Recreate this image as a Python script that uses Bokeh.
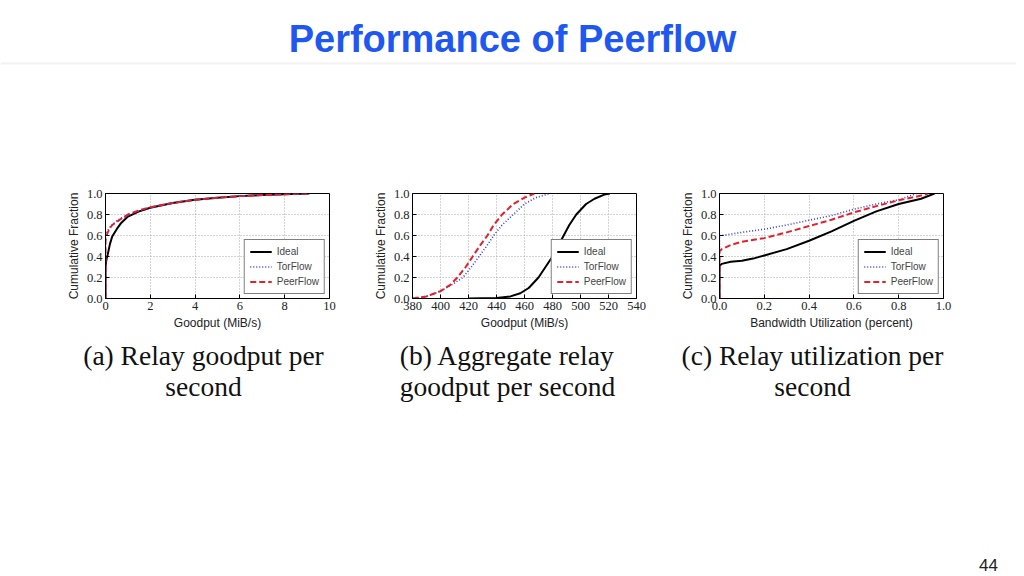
from bokeh.plotting import figure
from bokeh.layouts import column, row
from bokeh.models import Range1d, Spacer, FixedTicker, NumeralTickFormatter
from bokeh.core.properties import value
from bokeh.embed import file_html
from bokeh.resources import INLINE

TITLE = "Performance of Peerflow"
PAGE_NUMBER = "44"
CAPTION_LINES_1 = ["(a) Relay goodput per", "(b) Aggregate relay", "(c) Relay utilization per"]
CAPTION_LINES_2 = ["second", "goodput per second", "second"]
SERIES = ["Ideal", "TorFlow", "PeerFlow"]
Y_TICKS = [0.0, 0.2, 0.4, 0.6, 0.8, 1.0]

# (a) Relay goodput per second
a_x_ticks = [0, 2, 4, 6, 8, 10]
a_ideal_x = [0, 0, 0.02, 0.05, 0.1, 0.2, 0.3, 0.5, 0.7, 1.0, 1.5, 2.0, 3.0, 4.0, 5.0, 6.0, 7.0, 8.0, 9.1]
a_ideal_y = [0, 0.30, 0.34, 0.38, 0.42, 0.52, 0.59, 0.66, 0.72, 0.78, 0.83, 0.865, 0.91, 0.94, 0.96, 0.975, 0.985, 0.993, 1.0]
a_torflow_x = [0, 0, 0.05, 0.1, 0.2, 0.3, 0.5, 0.7, 1.0, 1.5, 2.0, 3.0, 4.0, 5.0, 6.0, 7.0, 8.0, 9.0]
a_torflow_y = [0, 0.60, 0.63, 0.65, 0.68, 0.70, 0.74, 0.765, 0.79, 0.83, 0.865, 0.91, 0.94, 0.96, 0.975, 0.985, 0.993, 1.0]
a_peerflow_x = [0, 0, 0.05, 0.1, 0.2, 0.3, 0.5, 0.7, 1.0, 1.5, 2.0, 3.0, 4.0, 5.0, 6.0, 7.0, 8.0, 9.0]
a_peerflow_y = [0, 0.55, 0.60, 0.63, 0.67, 0.70, 0.73, 0.76, 0.80, 0.84, 0.87, 0.91, 0.94, 0.96, 0.975, 0.985, 0.993, 1.0]

# (b) Aggregate relay goodput per second
b_x_ticks = [380, 400, 420, 440, 460, 480, 500, 520, 540]
b_ideal_x = [420, 440, 450, 457, 463, 470, 475, 480, 484, 488, 492, 497, 504, 510, 517, 521]
b_ideal_y = [0, 0.005, 0.02, 0.05, 0.1, 0.2, 0.3, 0.4, 0.5, 0.6, 0.7, 0.8, 0.9, 0.95, 0.99, 1.0]
b_torflow_x = [382, 390, 400, 408, 416, 422, 427.5, 433, 438, 444, 452, 460, 468, 478]
b_torflow_y = [0, 0.02, 0.07, 0.13, 0.2, 0.3, 0.4, 0.5, 0.6, 0.7, 0.8, 0.9, 0.96, 1.0]
b_peerflow_x = [380, 390, 400, 407, 412, 418, 423, 428, 433.5, 438, 444, 452, 460, 467]
b_peerflow_y = [0, 0.02, 0.07, 0.13, 0.2, 0.3, 0.4, 0.5, 0.6, 0.7, 0.8, 0.9, 0.96, 1.0]

# (c) Relay utilization per second
c_x_ticks = [0.0, 0.2, 0.4, 0.6, 0.8, 1.0]
c_ideal_x = [0, 0, 0.01, 0.05, 0.1, 0.15, 0.2, 0.3, 0.4, 0.5, 0.6, 0.7, 0.8, 0.9, 0.96]
c_ideal_y = [0, 0.31, 0.33, 0.35, 0.36, 0.38, 0.41, 0.47, 0.55, 0.64, 0.74, 0.83, 0.9, 0.95, 1.0]
c_torflow_x = [0, 0, 0.01, 0.1, 0.2, 0.3, 0.4, 0.5, 0.6, 0.7, 0.8, 0.88]
c_torflow_y = [0, 0.60, 0.60, 0.63, 0.66, 0.70, 0.745, 0.79, 0.85, 0.90, 0.94, 1.0]
c_peerflow_x = [0, 0, 0.01, 0.05, 0.1, 0.2, 0.3, 0.4, 0.5, 0.6, 0.7, 0.8, 0.9, 0.93]
c_peerflow_y = [0, 0.45, 0.47, 0.51, 0.54, 0.575, 0.63, 0.69, 0.75, 0.82, 0.88, 0.935, 0.98, 1.0]

COLORS = ["black", "#3a3ae6", "#e5202a"]
DASHES = ["solid", "1 2", "6 3"]
WIDTHS = [2, 1.6, 2]

PAGE_W = 1016
HEAD_H = 180
FRAME_W, FRAME_H = 224, 105
BORDER_L, BORDER_R, BORDER_T, BORDER_B = 40, 10, 13, 34
PANEL_H = BORDER_T + FRAME_H + BORDER_B
CAP_H = 242


def make_panel(series, x_range, x_ticks, x_label, x_fmt=None):
    p = figure(frame_width=FRAME_W, frame_height=FRAME_H,
               x_range=Range1d(*x_range), y_range=Range1d(0, 1),
               output_backend="svg", toolbar_location=None,
               min_border_left=BORDER_L, min_border_right=BORDER_R,
               min_border_top=BORDER_T, min_border_bottom=BORDER_B)
    p.outline_line_color = "black"
    p.outline_line_width = 1
    p.xaxis.ticker = FixedTicker(ticks=x_ticks)
    p.yaxis.ticker = FixedTicker(ticks=Y_TICKS)
    p.yaxis.formatter = NumeralTickFormatter(format="0.0")
    if x_fmt:
        p.xaxis.formatter = NumeralTickFormatter(format=x_fmt)
    p.xaxis.axis_label = x_label
    p.yaxis.axis_label = "Cumulative Fraction"
    for ax in p.axis:
        ax.major_tick_in = 4
        ax.major_tick_out = 0
        ax.minor_tick_line_color = None
        ax.axis_line_color = "black"
        ax.major_tick_line_color = "black"
        ax.major_label_text_font = "Liberation Serif"
        ax.major_label_text_font_size = "12.5px"
        ax.major_label_text_color = "#222222"
        ax.major_label_standoff = 3
        ax.axis_label_text_font = "Liberation Sans"
        ax.axis_label_text_font_size = "12px"
        ax.axis_label_text_font_style = "normal"
        ax.axis_label_text_color = "#222222"
        ax.axis_label_standoff = 3
    p.grid.grid_line_color = "#a8a8a8"
    p.grid.grid_line_dash = "1 2"
    for (xs, ys), name, c, d, w in zip(series, SERIES, COLORS, DASHES, WIDTHS):
        p.line(xs, ys, line_color=c, line_dash=d, line_width=w, legend_label=name)
    lg = p.legend[0]
    lg.location = "bottom_right"
    lg.label_text_font = "Liberation Sans"
    lg.label_text_font_size = "10px"
    lg.glyph_width = 22
    lg.glyph_height = 13
    lg.label_height = 13
    lg.spacing = 2
    lg.padding = 5
    lg.margin = 4
    lg.label_standoff = 5
    lg.border_line_color = "black"
    lg.border_line_width = 1
    lg.background_fill_alpha = 1
    return p


pa = make_panel([(a_ideal_x, a_ideal_y), (a_torflow_x, a_torflow_y), (a_peerflow_x, a_peerflow_y)],
                (0, 10), a_x_ticks, "Goodput (MiB/s)")
pb = make_panel([(b_ideal_x, b_ideal_y), (b_torflow_x, b_torflow_y), (b_peerflow_x, b_peerflow_y)],
                (380, 540), b_x_ticks, "Goodput (MiB/s)")
pc = make_panel([(c_ideal_x, c_ideal_y), (c_torflow_x, c_torflow_y), (c_peerflow_x, c_peerflow_y)],
                (0, 1), c_x_ticks, "Bandwidth Utilization (percent)", "0.0")

# header
head = figure(width=PAGE_W, height=HEAD_H, x_range=Range1d(0, PAGE_W), y_range=Range1d(HEAD_H, 0),
              x_axis_location=None, y_axis_location=None, toolbar_location=None,
              output_backend="svg", min_border=0, outline_line_color=None)
head.grid.visible = False
head.text(x=[512], y=[38], text=[TITLE], text_font=value("Liberation Sans"), text_font_style="bold",
          text_font_size="38px", text_color="#1f58f0", text_align="center", text_baseline="middle")
head.segment(x0=[0], y0=[63], x1=[PAGE_W], y1=[63], line_color="#f2f2f2", line_width=2)

# captions and page number
cap = figure(width=PAGE_W, height=CAP_H, x_range=Range1d(0, PAGE_W), y_range=Range1d(CAP_H, 0),
             x_axis_location=None, y_axis_location=None, toolbar_location=None,
             output_backend="svg", min_border=0, outline_line_color=None)
cap.grid.visible = False
cap_x = [203, 507, 812]
cap.text(x=cap_x, y=[23] * 3, text=CAPTION_LINES_1, text_font=value("Liberation Serif"),
         text_font_size="27.5px", text_color="#111111", text_align="center", text_baseline="middle")
cap.text(x=cap_x, y=[54] * 3, text=CAPTION_LINES_2, text_font=value("Liberation Serif"),
         text_font_size="27.5px", text_color="#111111", text_align="center", text_baseline="middle")
cap.text(x=[988], y=[232], text=[PAGE_NUMBER], text_font=value("Liberation Sans"),
         text_font_size="17px", text_color="#222222", text_align="center", text_baseline="middle")

layout = column(head,
                row(Spacer(width=63), pa, Spacer(width=31), pb, Spacer(width=31), pc),
                cap)

open("out.html", "w").write(file_html(layout, INLINE))
